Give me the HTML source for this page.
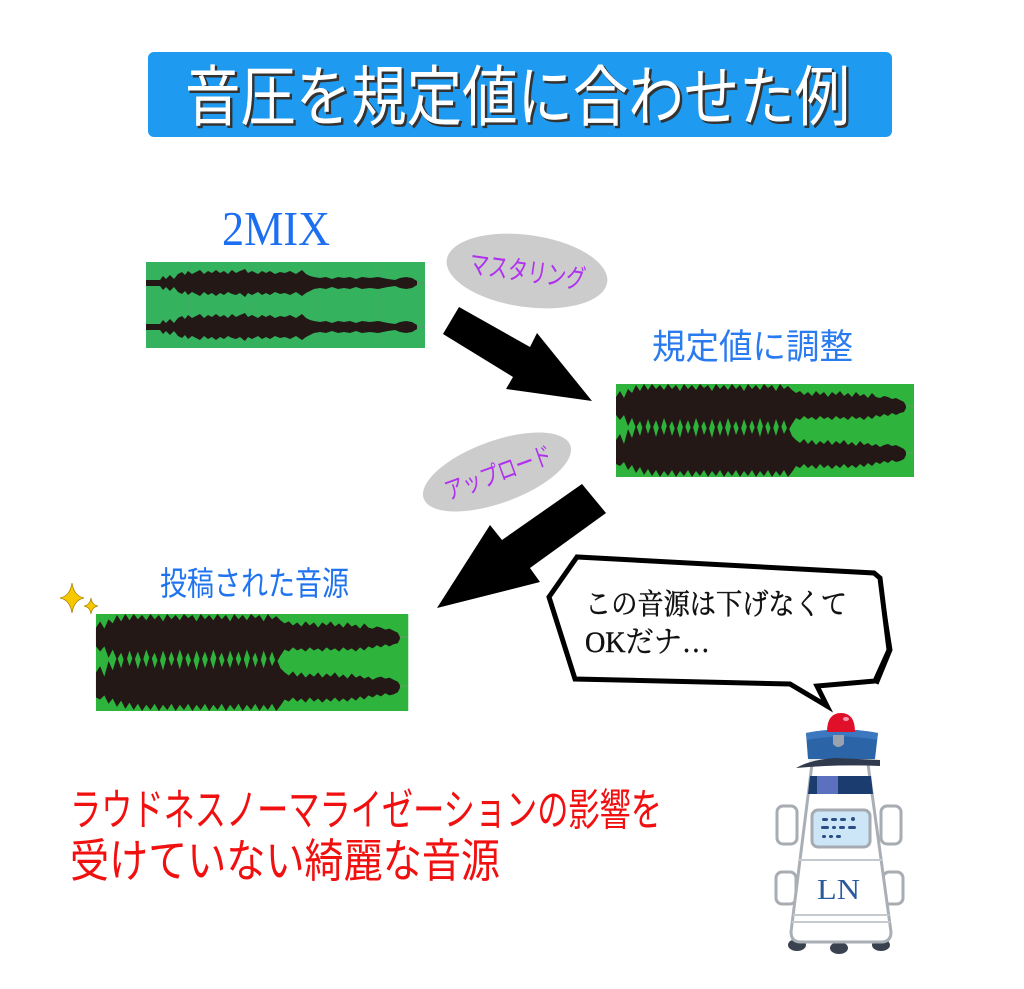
<!DOCTYPE html>
<html>
<head>
<meta charset="utf-8">
<style>
html,body{margin:0;padding:0;background:#fff;}
svg{display:block;}
.jp{font-family:"Liberation Sans","Noto Sans CJK JP",sans-serif;}
.jps{font-family:"Liberation Serif","Noto Serif CJK SC","Noto Sans CJK JP",serif;}
</style>
</head>
<body>
<svg width="1024" height="989" viewBox="0 0 1024 989" xmlns="http://www.w3.org/2000/svg">
  <defs>
    <g id="wf2">
      <rect x="616" y="384" width="298" height="93" fill="#2eb43c"/>
      <line x1="616" y1="406" x2="914" y2="406" stroke="#6a9a6a" stroke-width="1"/>
      <line x1="616" y1="453" x2="914" y2="453" stroke="#6a9a6a" stroke-width="1"/>
      <polygon fill="#231815" points="616,397 620,391 624,398 628,389 632,393 636,385 640,391 644,384 648,390 652,384 656,389 660,385 664,390 668,384 672,389 676,385 680,391 684,384 688,389 692,385 696,390 700,384 704,388 708,385 712,391 716,384 720,389 724,385 728,390 732,384 736,389 740,385 744,391 748,384 752,389 756,385 760,390 764,384 768,388 772,385 776,391 780,384 784,389 788,386 792,390 796,393 800,391 804,395 808,392 812,396 816,391 820,395 824,392 828,397 832,392 836,395 840,391 844,396 848,393 852,397 856,392 860,396 864,394 868,398 872,393 876,397 880,398 884,396 888,397 892,399 896,398 900,400 904,402 906,406 906,408 904,412 900,413 896,415 892,413 888,416 884,414 880,417 876,415 872,419 868,416 864,420 860,417 856,419 852,416 848,420 844,417 840,419 836,416 832,420 828,417 824,419 820,416 816,420 812,417 808,419 804,416 800,420 796,418 792,424 788,431 784,420 780,430 776,419 772,432 768,421 764,429 760,418 756,431 752,420 748,430 744,419 740,432 736,421 732,429 728,418 724,431 720,420 716,430 712,419 708,432 704,421 700,429 696,418 692,431 688,420 684,430 680,419 676,432 672,421 668,429 664,418 660,431 656,420 652,430 648,419 644,432 640,421 636,428 632,418 628,426 624,415 620,420 616,415"/>
      <polygon fill="#231815" points="616,440 620,434 624,444 628,429 632,438 636,425 640,436 644,422 648,434 652,423 656,437 660,424 664,435 668,422 672,436 676,425 680,438 684,423 688,434 692,424 696,437 700,422 704,435 708,425 712,438 716,423 720,436 724,424 728,437 732,422 736,435 740,425 744,436 748,423 752,434 756,424 760,437 764,422 768,435 772,424 776,436 780,423 784,434 788,426 792,436 796,440 800,443 804,439 808,444 812,440 816,445 820,441 824,444 828,440 832,445 836,441 840,444 844,440 848,445 852,442 856,446 860,441 864,445 868,443 872,446 876,444 880,447 884,445 888,444 892,446 896,445 900,447 904,449 906,452 906,455 904,459 900,461 896,462 892,460 888,463 884,461 880,464 876,462 872,466 868,463 864,467 860,464 856,468 852,465 848,468 844,464 840,468 836,465 832,469 828,465 824,468 820,464 816,469 812,465 808,468 804,464 800,468 796,466 792,472 788,477 784,470 780,476 776,471 772,477 768,470 764,476 760,471 756,477 752,470 748,476 744,471 740,477 736,470 732,476 728,471 724,477 720,470 716,476 712,471 708,477 704,470 700,476 696,471 692,477 688,470 684,476 680,471 676,477 672,470 668,476 664,471 660,477 656,470 652,476 648,469 644,475 640,467 636,473 632,465 628,470 624,462 620,466 616,464"/>
    </g>
  </defs>

  <!-- Title -->
  <rect x="148" y="52" width="744" height="85" rx="6" fill="#1e9bf0"/>
  <text class="jp" x="187" y="122" font-size="66" fill="#333" stroke="#333" stroke-width="1" textLength="665" lengthAdjust="spacingAndGlyphs">音圧を規定値に合わせた例</text>
  <text class="jp" x="185" y="120" font-size="66" fill="#ffffff" textLength="665" lengthAdjust="spacingAndGlyphs">音圧を規定値に合わせた例</text>

  <!-- 2MIX -->
  <text x="222" y="245" font-family="Liberation Serif, serif" font-size="49" fill="#1d6ff2" textLength="108" lengthAdjust="spacingAndGlyphs">2MIX</text>

  <!-- Waveform 1 -->
  <rect x="146" y="262" width="279" height="86" fill="#35b25e"/>
  <line x1="146" y1="283" x2="425" y2="283" stroke="#5f8f6c" stroke-width="1"/>
  <line x1="146" y1="327" x2="425" y2="327" stroke="#5f8f6c" stroke-width="1"/>
  <g stroke="#3fa865" stroke-width="1">
    <line x1="190" y1="262" x2="190" y2="348"/>
    <line x1="253" y1="262" x2="253" y2="348"/>
    <line x1="317" y1="262" x2="317" y2="348"/>
    <line x1="381" y1="262" x2="381" y2="348"/>
  </g>
  <polygon fill="#231815" points="146,280 160,280 163,276 166,279 170,275 174,279 178,274 182,272 185,275 188,271 192,274 196,272 200,270 204,274 208,271 212,273 216,270 220,273 224,271 228,274 232,270 236,273 240,271 245,269 248,273 252,271 258,274 262,271 266,273 270,271 275,274 280,272 285,273 290,271 296,274 302,270 306,274 310,276 314,277 320,278 326,277 332,279 338,277 344,278 350,277 356,279 362,277 370,278 378,277 388,279 395,280 400,278 406,277 412,278 417,281 417,285 412,288 406,289 400,288 395,286 388,287 378,289 370,288 362,289 356,287 350,289 344,288 338,289 332,287 326,289 320,288 314,289 310,291 306,293 302,296 296,292 290,295 285,293 280,294 275,292 270,295 266,293 262,295 258,292 252,295 248,293 245,297 240,293 236,295 232,294 228,292 224,295 220,293 216,296 212,293 208,295 204,292 200,296 196,294 192,292 188,295 185,291 182,294 178,292 174,287 170,291 166,287 163,290 160,286 146,286"/>
  <polygon fill="#231815" points="146,324 160,324 163,320 166,323 170,319 174,323 178,318 182,316 185,319 188,315 192,318 196,316 200,314 204,318 208,315 212,317 216,314 220,317 224,315 228,318 232,314 236,317 240,315 245,313 248,317 252,315 258,318 262,315 266,317 270,315 275,318 280,316 285,317 290,315 296,318 302,314 306,318 310,320 314,321 320,322 326,321 332,323 338,321 344,322 350,321 356,323 362,321 370,322 378,321 388,323 395,324 400,322 406,321 412,322 417,325 417,329 412,332 406,333 400,332 395,330 388,331 378,333 370,332 362,333 356,331 350,333 344,332 338,333 332,331 326,333 320,332 314,333 310,335 306,337 302,340 296,336 290,339 285,337 280,338 275,336 270,339 266,337 262,339 258,336 252,339 248,337 245,341 240,337 236,339 232,338 228,336 224,339 220,337 216,340 212,337 208,339 204,336 200,340 196,338 192,336 188,339 185,335 182,338 178,336 174,331 170,335 166,331 163,334 160,330 146,330"/>

  <!-- Mastering ellipse -->
  <g transform="rotate(8 527 271)">
    <ellipse cx="527" cy="271" rx="81" ry="36" fill="#cccccc"/>
    <text class="jp" x="469" y="281" font-size="27" fill="#b030f0" textLength="117" lengthAdjust="spacingAndGlyphs">マスタリング</text>
  </g>

  <!-- Arrow 1 -->
  <polygon fill="#000" points="459,307 530,347 537,333 592,401 506,389 513,377 443,334"/>

  <!-- 規定値に調整 -->
  <text class="jp" x="652" y="359" font-size="35" fill="#2b7bf0" textLength="201" lengthAdjust="spacingAndGlyphs">規定値に調整</text>

  <!-- Waveform 2 -->
  <use href="#wf2"/>

  <!-- Upload ellipse -->
  <g transform="rotate(-20 497 472)">
    <ellipse cx="497" cy="472" rx="78" ry="31" fill="#cccccc"/>
    <text class="jp" x="442" y="482" font-size="25" fill="#b030f0" textLength="112" lengthAdjust="spacingAndGlyphs">アップロード</text>
  </g>

  <!-- Arrow 2 -->
  <polygon fill="#000" points="582,484 606,513 530,568 540,582 437,608 490,525 502,540"/>

  <!-- 投稿された音源 -->
  <text class="jp" x="160" y="595" font-size="33" fill="#1f73ef" textLength="189" lengthAdjust="spacingAndGlyphs">投稿された音源</text>

  <!-- Sparkles -->
  <path d="M72,583 Q74,596 84,598 Q74,600 72,613 Q70,600 60,598 Q70,596 72,583 Z" fill="#f7c800" stroke="#a98200" stroke-width="0.8"/>
  <path d="M91,598 Q92,605 98,606 Q92,607 91,614 Q90,607 84,606 Q90,605 91,598 Z" fill="#f7c800" stroke="#a98200" stroke-width="0.8"/>

  <!-- Waveform 3 -->
  <use href="#wf2" transform="matrix(1.048 0 0 1.043 -549.6 213.5)"/>

  <!-- Speech bubble -->
  <polygon points="549,597 577,557 874,573 880,578 889,650 875,681 817,686 827,706 790,684 575,679" fill="#fff" stroke="#000" stroke-width="5" stroke-linejoin="miter"/>
  <polyline points="880,580 891,650 877,684" fill="none" stroke="#000" stroke-width="3"/>
  <text class="jps" x="585" y="614" font-size="29" fill="#111" stroke="#111" stroke-width="0.5" textLength="262" lengthAdjust="spacingAndGlyphs">この音源は下げなくて</text>
  <text class="jps" x="585" y="652" font-size="30" fill="#111" stroke="#111" stroke-width="0.4" textLength="125" lengthAdjust="spacingAndGlyphs">OKだナ…</text>

  <!-- Red text -->
  <text class="jp" x="70" y="825" font-size="44" fill="#f01010" textLength="592" lengthAdjust="spacingAndGlyphs">ラウドネスノーマライゼーションの影響を</text>
  <text class="jp" x="70" y="877" font-size="46" fill="#f01010" textLength="430" lengthAdjust="spacingAndGlyphs">受けていない綺麗な音源</text>

  <!-- Robot -->
  <g>
    <ellipse cx="797" cy="945" rx="9" ry="6" fill="#3a4250"/>
    <ellipse cx="839" cy="948" rx="9" ry="6" fill="#3a4250"/>
    <ellipse cx="881" cy="945" rx="9" ry="6" fill="#3a4250"/>
    <rect x="777" y="806" width="20" height="38" rx="6" fill="#fff" stroke="#a7adb3" stroke-width="3"/>
    <rect x="776" y="872" width="20" height="32" rx="6" fill="#fff" stroke="#a7adb3" stroke-width="3"/>
    <rect x="881" y="806" width="20" height="38" rx="6" fill="#fff" stroke="#a7adb3" stroke-width="3"/>
    <rect x="883" y="872" width="20" height="32" rx="6" fill="#fff" stroke="#a7adb3" stroke-width="3"/>
    <path d="M812,764 L868,764 L891,932 Q891,942 881,942 L801,942 Q791,942 791,932 Z" fill="#fff" stroke="#a9afb5" stroke-width="3" stroke-linejoin="round"/>
    <line x1="799" y1="860" x2="883" y2="860" stroke="#c5cacf" stroke-width="2"/>
    <line x1="793" y1="915" x2="889" y2="915" stroke="#c5cacf" stroke-width="2"/>
    <line x1="792" y1="922" x2="890" y2="922" stroke="#c5cacf" stroke-width="2"/>
    <polygon points="810,776 871,776 873,794 808,794" fill="#1b3c6e"/>
    <rect x="817" y="776" width="21" height="18" fill="#5b70bf"/>
    <rect x="812" y="810" width="58" height="37" rx="6" fill="#cde6f7" stroke="#a5abb0" stroke-width="3"/>
    <g fill="#2a4f86">
      <rect x="822" y="818" width="6" height="3" rx="1.5"/><rect x="831" y="818" width="6" height="3" rx="1.5"/><rect x="840" y="818" width="6" height="3" rx="1.5"/><rect x="851" y="817" width="4" height="4" rx="2"/>
      <rect x="821" y="826" width="8" height="3" rx="1.5"/><rect x="832" y="826" width="4" height="3" rx="1.5"/><rect x="839" y="826" width="6" height="3" rx="1.5"/><rect x="848" y="826" width="8" height="3" rx="1.5"/>
      <rect x="822" y="835" width="4" height="3" rx="1.5"/><rect x="829" y="835" width="4" height="3" rx="1.5"/><rect x="836" y="835" width="5" height="3" rx="1.5"/>
    </g>
    <text x="817" y="899" font-family="Liberation Serif, serif" font-size="29" fill="#2a5a9c" textLength="43" lengthAdjust="spacingAndGlyphs">LN</text>
    <rect x="809" y="757" width="66" height="8" fill="#e6e9ec"/>
    <path d="M806,733 Q841,726 878,733 L875,759 L808,759 Z" fill="#2c64a8"/>
    <path d="M806,733 Q841,726 878,733 L877,740 Q841,733 807,740 Z" fill="#3b78bf"/>
    <path d="M833,735 L844,735 L844,744 Q838,750 833,744 Z" fill="#9aa3ad"/>
    <path d="M796,768 Q812,759 836,758 L880,760 L880,766 Q840,764 796,768 Z" fill="#2f3a4f"/>
    <path d="M827,732 Q827,713 841,713 Q855,713 855,732 Z" fill="#e0102a"/>
    <ellipse cx="846" cy="719" rx="3" ry="2" fill="#f59ab0"/>
  </g>
</svg>
</body>
</html>
